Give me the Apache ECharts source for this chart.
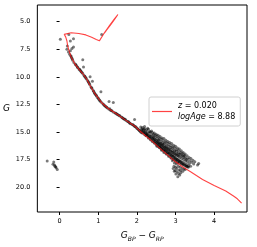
<!DOCTYPE html>
<html><head><meta charset="utf-8">
<script src="https://cdn.jsdelivr.net/npm/echarts@6/dist/echarts.min.js"></script>
<style>html,body{margin:0;padding:0;background:#fff;}#c{width:257px;height:247px;}</style>
</head><body><div id="c"></div>
<script>
// Isochrone (colour G_BP-G_RP, magnitude G)
const isochrone = [[4.71,21.45],[4.6,21.05],[4.5,20.8],[4.3,20.35],[4.0,19.85],[3.7,19.3],[3.39,18.6],[3.2,18.2],[3.0,17.7],[2.8,17.1],[2.62,16.55],[2.4,15.85],[2.11,15.0],[1.94,14.45],[1.7,13.9],[1.45,13.3],[1.25,12.85],[1.09,12.35],[0.92,11.55],[0.8,10.85],[0.7,10.2],[0.6,9.7],[0.5,9.3],[0.4,8.85],[0.3,8.2],[0.25,7.7],[0.21,7.2],[0.19,6.75],[0.16,6.4],[0.12,6.15],[0.13,6.02],[0.3,6.0],[0.5,6.08],[0.68,6.2],[0.83,6.42],[0.95,6.62],[1.03,6.74],[1.08,6.62],[1.16,6.0],[1.3,5.3],[1.42,4.75],[1.51,4.35],[1.44,4.7],[1.32,5.3],[1.2,5.85],[1.13,6.15]];

// Upper main sequence / turn-off stars
const upperStars = [[0.02,6.6],[0.24,6.16],[0.28,6.75],[0.36,6.54],[0.19,7.5],[0.32,7.43],[0.36,7.3],[0.28,7.64],[1.09,6.16],[0.2,7.2],[0.23,7.75],[0.26,7.95],
[0.62,9.12],[0.79,10.0],[0.85,10.4],[1.07,11.35],[1.28,12.23],[1.39,12.32],[1.94,13.87],[0.6,8.45]];

// Main sequence stars
const msStars = [[0.29,8.1],[0.31,8.3],[0.34,8.5],[0.37,8.7],[0.41,8.85],[0.44,9.0],[0.47,9.15],[0.5,9.3],[0.53,9.4],[0.56,9.55],[0.6,9.7],[0.63,9.85],[0.66,10.0],[0.69,10.15],[0.72,10.3],[0.75,10.5],[0.78,10.7],[0.81,10.9],[0.84,11.05],[0.87,11.25],[0.9,11.45],[0.93,11.6],[0.96,11.75],[0.99,11.9],[1.02,12.05],[1.05,12.2],[1.08,12.3],[1.12,12.45],[1.16,12.6],[1.2,12.72],[1.24,12.83],[1.28,12.93],[1.32,13.02],[1.36,13.1],[1.4,13.2],[1.44,13.28],[1.48,13.37],[1.52,13.46],[1.56,13.56],[1.6,13.65],[1.64,13.75],[1.68,13.85],[1.72,13.95],[1.76,14.05],[1.8,14.15],[1.84,14.25],[1.88,14.33],[1.92,14.42],[1.96,14.52],[2.0,14.65],[2.04,14.78],[2.07,14.88],
[0.33,8.35],[0.46,9.1],[0.58,9.6],[0.74,10.42],[0.88,11.3],[1.0,11.95],[1.14,12.5],[1.3,12.9],[1.46,13.3],[1.62,13.68],[1.78,14.05],[1.9,14.35],[2.02,14.7],[1.98,14.55],[1.7,13.85],[1.55,13.5],[1.22,12.75],[0.95,11.68],[0.68,10.1],[0.52,9.32],
[0.3,8.15],[0.42,8.9],[0.55,9.48],[0.65,9.95],[0.77,10.6],[0.83,11.0],[0.91,11.5],[1.04,12.15],[1.18,12.65],[1.34,13.05],[1.5,13.42],[1.66,13.8],[1.82,14.2],[1.94,14.48],[2.06,14.85]];

// Dense lower main sequence (binary band)
const lowerStars = [
[2.10,14.55],[2.12,14.8],[2.09,14.95],[2.11,15.05],[2.13,14.7],
[2.15,14.6],[2.17,14.85],[2.14,15.1],[2.16,15.0],[2.18,14.75],
[2.20,14.5],[2.22,14.9],[2.19,15.2],[2.21,15.05],[2.23,15.3],[2.2,14.7],
[2.25,14.8],[2.27,15.0],[2.24,15.35],[2.26,15.15],[2.28,14.65],[2.25,15.25],
[2.30,14.75],[2.32,15.1],[2.29,15.45],[2.31,15.3],[2.33,14.95],[2.3,15.55],
[2.35,15.0],[2.37,15.25],[2.34,15.6],[2.36,15.4],[2.38,14.9],[2.35,15.7],
[2.40,15.05],[2.42,15.35],[2.39,15.75],[2.41,15.55],[2.43,15.2],[2.4,15.85],
[2.45,15.1],[2.47,15.45],[2.44,15.9],[2.46,15.65],[2.48,15.3],[2.45,16.0],[2.43,15.5],
[2.50,15.2],[2.52,15.6],[2.49,16.05],[2.51,15.8],[2.53,15.4],[2.5,16.15],[2.48,15.7],
[2.55,15.3],[2.57,15.7],[2.54,16.2],[2.56,15.95],[2.58,15.55],[2.55,16.3],[2.53,15.85],
[2.60,15.4],[2.62,15.85],[2.59,16.35],[2.61,16.1],[2.63,15.65],[2.6,16.45],[2.58,16.0],
[2.65,15.55],[2.67,16.0],[2.64,16.5],[2.66,16.2],[2.68,15.8],[2.65,16.6],[2.63,16.15],
[2.70,15.6],[2.72,16.05],[2.69,16.6],[2.71,16.35],[2.73,15.9],[2.7,16.75],[2.68,16.25],
[2.75,15.75],[2.77,16.2],[2.74,16.7],[2.76,16.45],[2.78,16.0],[2.75,16.9],[2.73,16.4],
[2.80,15.85],[2.82,16.3],[2.79,16.85],[2.81,16.6],[2.83,16.1],[2.8,17.05],[2.78,16.5],
[2.85,15.95],[2.87,16.4],[2.84,16.95],[2.86,16.7],[2.88,16.25],[2.85,17.2],[2.83,16.6],
[2.90,16.05],[2.92,16.5],[2.89,17.1],[2.91,16.85],[2.93,16.35],[2.9,17.35],[2.88,16.75],[2.92,17.6],
[2.95,16.2],[2.97,16.65],[2.94,17.2],[2.96,16.95],[2.98,16.45],[2.95,17.45],[2.93,16.85],[2.97,17.8],[2.94,18.3],
[3.00,16.3],[3.02,16.75],[2.99,17.3],[3.01,17.05],[3.03,16.6],[3.0,17.55],[2.98,17.0],[3.02,17.9],[2.99,18.5],[3.01,18.8],
[3.05,16.45],[3.07,16.9],[3.04,17.45],[3.06,17.15],[3.08,16.7],[3.05,17.7],[3.03,17.1],[3.07,18.1],[3.04,18.6],[3.06,19.05],
[3.10,16.55],[3.12,17.0],[3.09,17.55],[3.11,17.3],[3.13,16.85],[3.1,17.8],[3.08,17.2],[3.12,18.2],[3.09,18.45],[3.11,18.9],
[3.15,16.7],[3.17,17.1],[3.14,17.65],[3.16,17.4],[3.18,16.95],[3.15,17.9],[3.17,18.3],[3.14,18.7],
[3.20,16.85],[3.22,17.2],[3.19,17.75],[3.21,17.5],[3.23,17.1],[3.2,18.0],[3.22,18.35],
[3.25,17.0],[3.27,17.35],[3.24,17.85],[3.26,17.6],[3.28,18.1],[3.25,18.4],
[3.30,17.15],[3.32,17.45],[3.29,17.95],[3.31,17.7],[3.33,18.2],
[3.35,17.3],[3.37,17.6],[3.34,18.05],[3.36,17.85],
[3.40,17.4],[3.42,17.75],[3.39,18.1],
[3.45,17.55],[3.47,17.9],[3.5,17.7],[3.57,18.0],[3.6,17.85]];

// Core of the dense band
const coreStars = [
[2.14,14.9],[2.18,15.05],[2.22,15.1],[2.26,15.2],[2.29,15.35],[2.33,15.4],[2.37,15.5],[2.41,15.62],[2.44,15.72],[2.47,15.85],
[2.51,15.95],[2.54,16.05],[2.57,16.1],[2.6,16.25],[2.63,16.35],[2.66,16.4],[2.69,16.5],[2.72,16.6],[2.75,16.65],[2.78,16.75],
[2.81,16.85],[2.84,16.9],[2.87,17.0],[2.9,17.1],[2.93,17.15],[2.96,17.25],[2.99,17.35],[3.02,17.45],[3.05,17.5],[3.08,17.6],
[3.11,17.65],[3.14,17.75],[3.17,17.85],[3.2,17.9],[3.23,18.0],[3.26,18.05],[3.29,18.1],[3.32,18.15],
[2.52,16.3],[2.58,16.4],[2.64,16.65],[2.7,16.85],[2.76,17.0],[2.82,17.2],[2.88,17.35],[2.94,17.5],[3.0,17.65],[3.06,17.8],
[2.56,15.75],[2.62,16.0],[2.68,16.1],[2.74,16.3],[2.8,16.45],[2.86,16.55],[2.92,16.7],[2.98,16.8],[3.04,16.95],[3.1,17.05],
[3.16,17.2],[3.22,17.3],[3.28,17.5],[2.96,18.1],[3.03,18.3],[3.13,18.5],[3.19,18.55],[3.0,18.2],[3.08,18.75],[2.97,18.55]];

// White dwarfs
const wdStars = [[-0.32,17.63],[-0.15,17.72],[-0.17,17.93],[-0.12,18.1],[-0.09,18.23],[-0.06,18.4],[-0.13,17.98],[-0.1,18.15]];

const xTicks = [0,1,2,3,4];
const yTicks = [5,7.5,10,12.5,15,17.5,20];

const chart = echarts.init(document.getElementById('c'), null, {renderer:'canvas'});
const starStyle = {color:'rgba(0,0,0,0.65)'};
const font = 'DejaVu Sans';
const isoColor = 'rgba(255,20,20,0.8)';
const mkScatter = d => ({type:'scatter', data:d, symbolSize:3, itemStyle:starStyle, silent:true, z:2, legendHoverLink:false});
chart.setOption({
  animation:false,
  grid:{left:35, right:10, top:5, bottom:31, show:true, borderColor:'#000', borderWidth:1, backgroundColor:'transparent'},
  xAxis:{type:'value', min:-0.575, max:4.85,
    axisLine:{show:false}, splitLine:{show:false},
    axisTick:{show:true, customValues:xTicks, length:3, lineStyle:{color:'#000', width:1}},
    axisLabel:{customValues:xTicks, margin:6, fontSize:6.5, fontFamily:font, color:'#000'},
    name:'{i|G}{s|BP}{n| − }{i|G}{s|RP}', nameLocation:'middle', nameGap:18,
    nameTextStyle:{rich:{
      i:{fontSize:9, fontStyle:'italic', fontFamily:font, color:'#000', lineHeight:12},
      s:{fontSize:6, fontStyle:'italic', fontFamily:font, color:'#000', lineHeight:6, verticalAlign:'bottom'},
      n:{fontSize:9, fontFamily:font, color:'#000', lineHeight:12}}}
  },
  yAxis:{type:'value', inverse:true, min:3.49, max:22.25,
    axisLine:{show:false}, splitLine:{show:false},
    axisTick:{show:true, customValues:yTicks, length:3, lineStyle:{color:'#000', width:1}},
    axisLabel:{customValues:yTicks, margin:7, fontSize:6.5, fontFamily:font, color:'#000', formatter:v=>v.toFixed(1)},
    name:'G', nameLocation:'middle', nameRotate:0, nameGap:25,
    nameTextStyle:{fontSize:9, fontStyle:'italic', fontFamily:font, color:'#000'}
  },
  legend:{show:true, left:149, top:97, orient:'vertical',
    backgroundColor:'#fff', borderColor:'#d0d0d0', borderWidth:1, borderRadius:2,
    padding:[3,5,3,3], itemWidth:20, itemHeight:1.2, itemGap:0,
    data:[{name:'iso', icon:'rect', itemStyle:{color:isoColor, borderWidth:0}}],
    formatter:()=>'{i|z} = 0.020\n{i|logAge} = 8.88',
    textStyle:{fontFamily:font, fontSize:8, color:'#000', padding:[0,0,0,1], lineHeight:11.5,
      rich:{i:{fontStyle:'italic', fontFamily:font, fontSize:8, color:'#000', lineHeight:11.5}}}
  },
  series:[
    mkScatter(upperStars), mkScatter(msStars), mkScatter(lowerStars), mkScatter(coreStars), mkScatter(wdStars),
    {type:'line', name:'iso', data:isochrone, showSymbol:false, symbol:'none', smooth:false,
     lineStyle:{color:isoColor, width:1.1}, itemStyle:{color:isoColor}, z:5, silent:true}
  ]
});
</script></body></html>
